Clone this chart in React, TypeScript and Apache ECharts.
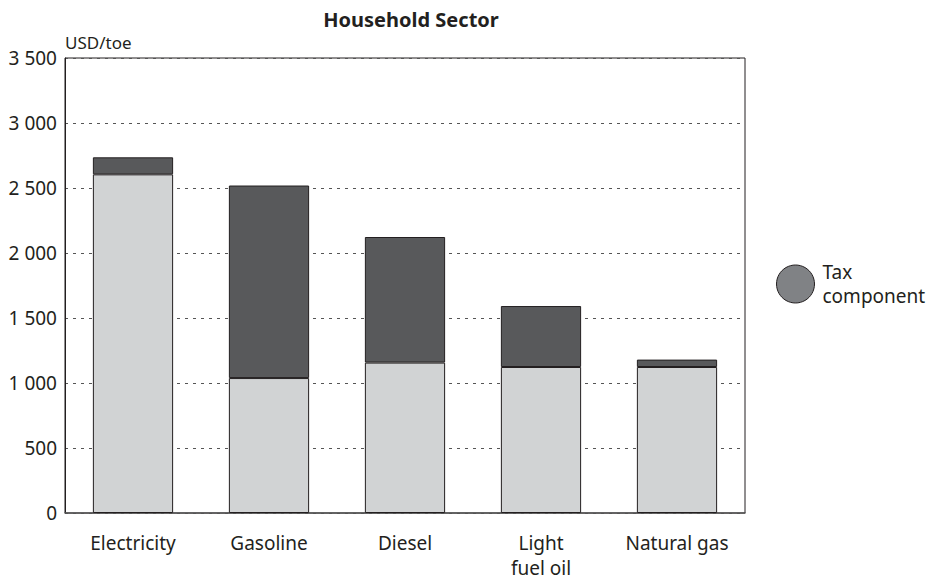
import React, { useEffect, useRef } from "react";
import * as echarts from "echarts";

const title = "Household Sector";
const unitLabel = "USD/toe";
const categories = ["Electricity", "Gasoline", "Diesel", "Light\nfuel oil", "Natural gas"];
const priceExTax = [2605, 1038, 1157, 1123, 1123];
const taxComponent = [131, 1481, 966, 469, 57];
const legendLabel = "Tax component";
const yMin = 0;
const yMax = 3500;
const yStep = 500;

const FONT = "'Noto Sans', 'Open Sans', sans-serif";
const TEXT = "#231f20";

function fmt(v: number): string {
  const s = String(Math.round(v));
  return s.replace(/\B(?=(\d{3})+(?!\d))/g, " ");
}

export default function App() {
  const ref = useRef<HTMLDivElement>(null);
  useEffect(() => {
    if (!ref.current) return;
    const chart = echarts.init(ref.current, undefined, { renderer: "svg" });
    chart.setOption({
      animation: false,
      backgroundColor: "#ffffff",
      textStyle: { fontFamily: FONT },
      title: {
        text: title,
        left: 406,
        textAlign: "center",
        top: 4,
        textStyle: { fontFamily: FONT, fontSize: 20, fontWeight: "bold", color: TEXT },
      },
      legend: {
        data: [
          {
            name: legendLabel,
            icon: "circle",
            itemStyle: { color: "#808285", borderColor: TEXT, borderWidth: 1 },
          },
        ],
        left: 776,
        top: 260,
        padding: 0,
        itemWidth: 38,
        itemHeight: 38,
        selectedMode: false,
        formatter: () => "Tax\ncomponent",
        textStyle: {
          fontFamily: FONT,
          fontSize: 19,
          color: TEXT,
          lineHeight: 24,
          padding: [0, 0, 0, 3],
        },
      },
      grid: {
        left: 65,
        right: 197,
        top: 58,
        bottom: 67,
        show: true,
        borderColor: TEXT,
        borderWidth: 1,
        backgroundColor: "transparent",
      },
      xAxis: {
        type: "category",
        data: categories,
        axisTick: { show: false },
        axisLine: { show: true, lineStyle: { color: "#555", width: 1.5 } },
        axisLabel: {
          fontFamily: FONT,
          fontSize: 19,
          color: TEXT,
          margin: 17,
          lineHeight: 25,
          interval: 0,
        },
      },
      yAxis: {
        type: "value",
        min: yMin,
        max: yMax,
        interval: yStep,
        name: unitLabel,
        nameLocation: "end",
        nameGap: 7,
        nameTextStyle: {
          fontFamily: FONT,
          fontSize: 17,
          color: TEXT,
          align: "left",
          verticalAlign: "bottom",
        },
        axisLine: { show: true, lineStyle: { color: TEXT, width: 1 } },
        axisTick: { show: false },
        axisLabel: {
          fontFamily: FONT,
          fontSize: 19,
          color: TEXT,
          margin: 8,
          formatter: (v: number) => fmt(v),
        },
        splitLine: {
          show: true,
          lineStyle: { color: "#555", type: [3, 5], width: 1 },
        },
      },
      series: [
        {
          name: "Price excluding tax",
          type: "bar",
          stack: "total",
          data: priceExTax,
          barWidth: "59%",
          itemStyle: { color: "#d1d3d4", borderColor: TEXT, borderWidth: 1 },
        },
        {
          name: legendLabel,
          type: "bar",
          stack: "total",
          data: taxComponent,
          barWidth: "59%",
          itemStyle: { color: "#58595b", borderColor: TEXT, borderWidth: 1 },
        },
      ],
    });
    return () => chart.dispose();
  }, []);
  return (
    <div
      ref={ref}
      style={{ position: "absolute", left: 0, top: 0, width: 942, height: 580 }}
    />
  );
}
